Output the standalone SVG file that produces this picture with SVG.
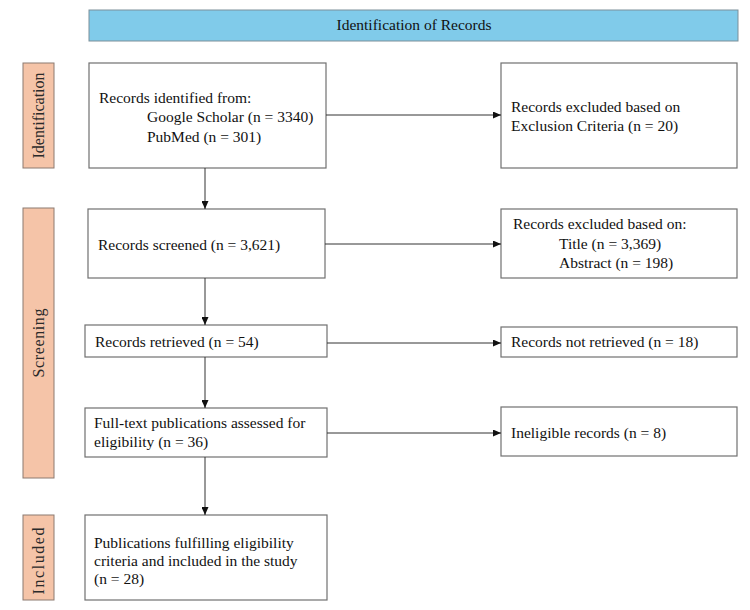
<svg xmlns="http://www.w3.org/2000/svg" width="750" height="610" viewBox="0 0 750 610">
<defs>
<marker id="ah" viewBox="0 0 8 7" refX="8" refY="3.5" markerWidth="8" markerHeight="7" markerUnits="userSpaceOnUse" orient="auto">
<path d="M0,0 L8,3.5 L0,7 z" fill="#111"/>
</marker>
<style>
.box{fill:#fff;stroke:#707070;stroke-width:1.2}
.t{font-family:"Liberation Serif","Times New Roman",serif;font-size:15.5px;fill:#111}
.side{fill:#f5c4a8;stroke:#8c7a70;stroke-width:1}
.st{font-family:"Liberation Serif","Times New Roman",serif;font-size:16px;fill:#2a2a2a}
.c{stroke:#333;stroke-width:1;fill:none;marker-end:url(#ah)}
</style>
</defs>
<rect width="750" height="610" fill="#fff"/>
<g id="banner">
<rect x="89" y="10" width="649" height="31" fill="#80cbea" stroke="#7d8f99" stroke-width="1"/>
<text class="t" x="414" y="30" text-anchor="middle">Identification of Records</text>
</g>
<g id="side-identification">
<rect class="side" x="23" y="63" width="31" height="105"/>
<text class="st" transform="translate(44,115.5) rotate(-90)" text-anchor="middle" textLength="86" lengthAdjust="spacing">Identification</text>
</g>
<g id="side-screening">
<rect class="side" x="23" y="208" width="31" height="270"/>
<text class="st" transform="translate(44,343) rotate(-90)" text-anchor="middle" textLength="69" lengthAdjust="spacing">Screening</text>
</g>
<g id="side-included">
<rect class="side" x="23" y="515" width="31" height="85"/>
<text class="st" transform="translate(44,561) rotate(-90)" text-anchor="middle" textLength="67" lengthAdjust="spacing">Included</text>
</g>
<g id="n1">
<rect class="box" x="89" y="63" width="237" height="105"/>
<text class="t" x="99" y="103">Records identified from:</text>
<text class="t" x="147" y="122">Google Scholar (n = 3340)</text>
<text class="t" x="147" y="142">PubMed (n = 301)</text>
</g>
<g id="n1x">
<rect class="box" x="501" y="63" width="236" height="105"/>
<text class="t" x="511" y="112">Records excluded based on</text>
<text class="t" x="511" y="131">Exclusion Criteria (n = 20)</text>
</g>
<g id="n2">
<rect class="box" x="88" y="209" width="237" height="69"/>
<text class="t" x="98" y="250">Records screened (n = 3,621)</text>
</g>
<g id="n2x">
<rect class="box" x="501" y="209" width="236" height="69"/>
<text class="t" x="513" y="229">Records excluded based on:</text>
<text class="t" x="559" y="249">Title (n = 3,369)</text>
<text class="t" x="559" y="268">Abstract (n = 198)</text>
</g>
<g id="n3">
<rect class="box" x="85" y="325" width="242" height="32"/>
<text class="t" x="95" y="347">Records retrieved (n = 54)</text>
</g>
<g id="n3x">
<rect class="box" x="501" y="327" width="236" height="30"/>
<text class="t" x="511" y="347">Records not retrieved (n = 18)</text>
</g>
<g id="n4">
<rect class="box" x="85" y="408" width="242" height="49"/>
<text class="t" x="94" y="428">Full-text publications assessed for</text>
<text class="t" x="94" y="447">eligibility (n = 36)</text>
</g>
<g id="n4x">
<rect class="box" x="501" y="407" width="236" height="49"/>
<text class="t" x="511" y="438">Ineligible records (n = 8)</text>
</g>
<g id="n5">
<rect class="box" x="85" y="515" width="242" height="85"/>
<text class="t" x="94" y="548">Publications fulfilling eligibility</text>
<text class="t" x="94" y="566">criteria and included in the study</text>
<text class="t" x="94" y="584">(n = 28)</text>
</g>
<g id="connectors">
<line class="c" x1="326" y1="115" x2="501" y2="115"/>
<line class="c" x1="325" y1="244" x2="501" y2="244"/>
<line class="c" x1="327" y1="343" x2="501" y2="343"/>
<line class="c" x1="327" y1="433" x2="501" y2="433"/>
<line class="c" x1="205" y1="168" x2="205" y2="209"/>
<line class="c" x1="205" y1="278" x2="205" y2="325"/>
<line class="c" x1="205" y1="357" x2="205" y2="408"/>
<line class="c" x1="205" y1="457" x2="205" y2="515"/>
</g>
</svg>
